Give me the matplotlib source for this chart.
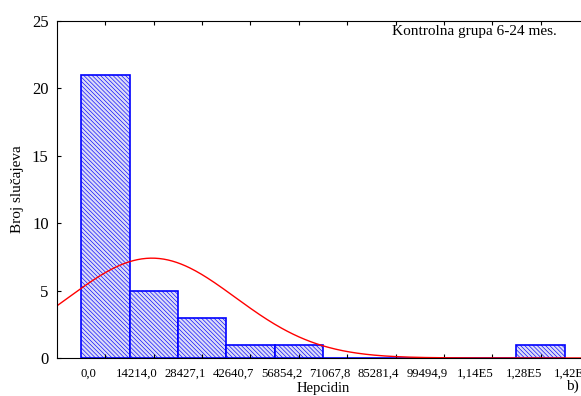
import numpy as np
import matplotlib
matplotlib.use("Agg")
import matplotlib.pyplot as plt

# histogram data (Statistica style)
bin_edges = [0.0, 14214.0, 28427.1, 42640.7, 56854.2, 71067.8,
             85281.4, 99494.9, 113708.5, 127922.0, 142135.6]
edge_labels = ["0,0", "14214,0", "28427,1", "42640,7", "56854,2", "71067,8",
               "85281,4", "99494,9", "1,14E5", "1,28E5", "1,42E5"]
counts = [21, 5, 3, 1, 1, 0, 0, 0, 0, 1]

# fitted normal curve parameters
fit_mean = 20800.0
fit_sd = 24500.0

plt.rcParams['font.family'] = ['Liberation Serif', 'DejaVu Serif']
plt.rcParams['hatch.linewidth'] = 0.45

fig = plt.figure(figsize=(5.81, 3.96), dpi=100)
ax = fig.add_axes([0.0981, 0.096, 0.9157, 0.851])

edges = np.array(bin_edges)
w = edges[1] - edges[0]
n = sum(counts)

ax.bar(edges[:-1], counts, width=np.diff(edges), align='edge',
       facecolor='#dcdcf6', edgecolor='blue', hatch='\\' * 8, linewidth=1.2)

xs = np.linspace(edges[0] - w, edges[-1] + w, 400)
ys = n * w / (fit_sd * np.sqrt(2 * np.pi)) * np.exp(-0.5 * ((xs - fit_mean) / fit_sd) ** 2)
ax.plot(xs, ys, color='red', lw=1.0)

ax.set_xlim(edges[0] - 0.5 * w, edges[-1] + 0.5 * w)
ax.set_ylim(0, 25)

centers = (edges[:-1] + edges[1:]) / 2
ax.set_xticks(centers)
ax.set_xticklabels([])
ax.set_xticks(edges + 0.15 * w, minor=True)
ax.set_xticklabels(edge_labels, minor=True, fontsize=9.2)
ax.tick_params(axis='x', which='minor', length=0, pad=7)
ax.tick_params(axis='x', which='major', direction='in', top=True, length=3)
ax.set_yticks([0, 5, 10, 15, 20, 25])
ax.tick_params(axis='y', direction='in', length=3, labelsize=12, pad=6)

ax.set_xlabel("Hepcidin", fontsize=10.5, labelpad=2)
ax.set_ylabel("Broj slučajeva", fontsize=11, labelpad=6)

fig.text(392 / 581, 1 - 35 / 396, "Kontrolna grupa 6-24 mes.", fontsize=11)
fig.text(566 / 581, 1 - 390 / 396, "b)", fontsize=11)

fig.savefig("out.png", dpi=100)
